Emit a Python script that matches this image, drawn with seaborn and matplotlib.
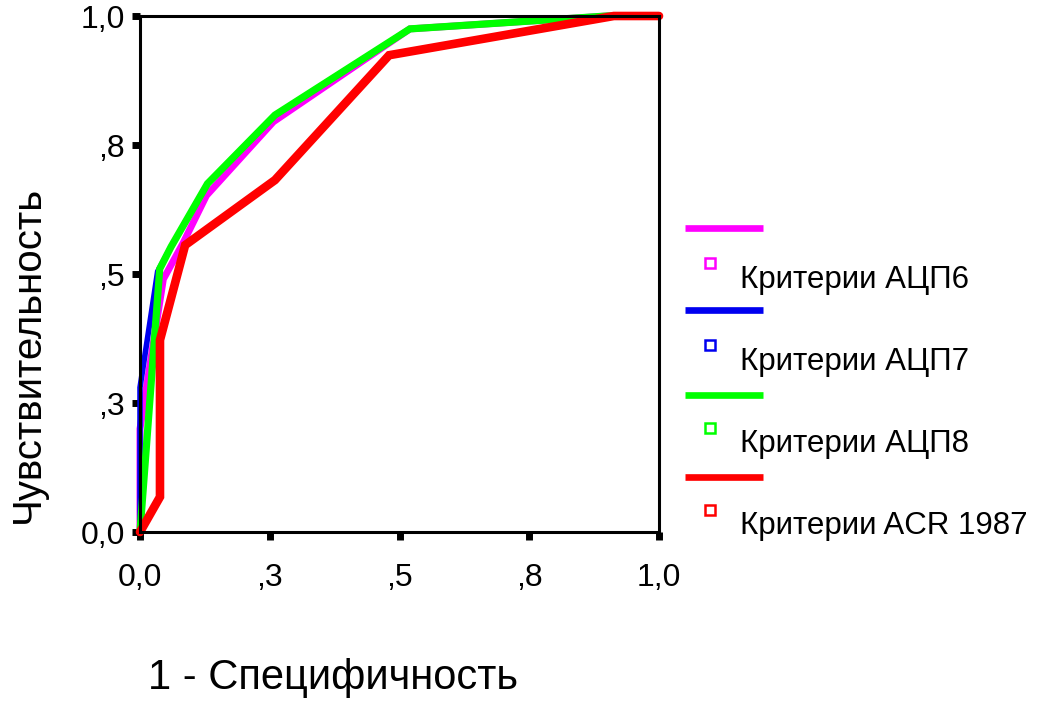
import matplotlib
matplotlib.use("Agg")
import matplotlib.pyplot as plt
from matplotlib.lines import Line2D
import seaborn as sns
import pandas as pd

# ROC curves: 1 - specificity (x) vs sensitivity (y)
labels = ["Критерии АЦП6", "Критерии АЦП7", "Критерии АЦП8", "Критерии ACR 1987"]
colors = ["#FF00FF", "#0000F0", "#00FF00", "#FF0000"]

fpr_acp6 = [0.0, 0.0, 0.045, 0.083, 0.128, 0.257, 0.52, 0.90, 1.0]
tpr_acp6 = [0.0, 0.20, 0.49, 0.56, 0.652, 0.795, 0.975, 1.0, 1.0]

fpr_acp7 = [0.0, 0.0, 0.034, 0.060, 0.130, 0.260, 0.52, 0.90, 1.0]
tpr_acp7 = [0.0, 0.28, 0.505, 0.553, 0.675, 0.808, 0.975, 1.0, 1.0]

fpr_acp8 = [0.0, 0.038, 0.060, 0.130, 0.260, 0.52, 0.90, 1.0]
tpr_acp8 = [0.0, 0.510, 0.553, 0.675, 0.808, 0.975, 1.0, 1.0]

fpr_acr = [0.0, 0.0385, 0.0385, 0.087, 0.26, 0.48, 0.913, 1.0]
tpr_acr = [0.0, 0.068, 0.372, 0.556, 0.682, 0.924, 1.0, 1.0]

tick_vals = [0.0, 0.25, 0.5, 0.75, 1.0]
tick_text = ["0,0", ",3", ",5", ",8", "1,0"]

series = [(fpr_acp6, tpr_acp6), (fpr_acp7, tpr_acp7), (fpr_acp8, tpr_acp8), (fpr_acr, tpr_acr)]
widths = [5.0, 4.0, 5.2, 6.2]

sns.set_theme(style="white")
plt.rcParams["font.family"] = ["Liberation Sans", "DejaVu Sans"]

W, H = 1049, 704
fig = plt.figure(figsize=(W / 100, H / 100), dpi=100)
ax = fig.add_axes([140 / W, 1 - 532 / H, 519 / W, 516 / H])

for (fx, ty), lab, col, lw in zip(series, labels, colors, widths):
    df = pd.DataFrame({"fpr": fx, "tpr": ty})
    sns.lineplot(data=df, x="fpr", y="tpr", sort=False, estimator=None,
                 color=col, linewidth=lw, ax=ax, clip_on=False,
                 solid_joinstyle="miter")

ax.set_xlim(0, 1)
ax.set_ylim(0, 1)
ax.set_xticks(tick_vals)
ax.set_xticklabels(tick_text)
ax.set_yticks(tick_vals)
ax.set_yticklabels(tick_text)
ax.set_xlabel("")
ax.set_ylabel("")
for sp in ax.spines.values():
    sp.set_visible(True)
    sp.set_color("black")
    sp.set_linewidth(2.2)
ax.tick_params(axis="both", which="both", direction="out", length=6,
               width=5, color="black", labelsize=23, labelcolor="black")
ax.tick_params(axis="x", pad=16)
ax.tick_params(axis="y", pad=5)
ax.tick_params(bottom=True, left=True, top=False, right=False)

# Axis titles
fig.text(333 / W, 1 - 678 / H, "1 - Специфичность", fontsize=30,
         ha="center", va="center", color="black")
fig.text(28 / W, 1 - 354 / H, "Чувствительность", fontsize=29,
         rotation=90, ha="center", va="center", color="black")

# Legend: line sample above a hollow square and the series name
line_y = [228, 310, 395, 477]
mark_y = [263, 345, 428, 510]
text_y = [280, 362, 444, 526]
for lab, col, ly, my, tyy in zip(labels, colors, line_y, mark_y, text_y):
    fig.add_artist(Line2D([685 / W, 763 / W], [1 - ly / H, 1 - ly / H],
                          transform=fig.transFigure, color=col, linewidth=4.8,
                          solid_capstyle="butt"))
    fig.add_artist(Line2D([710 / W], [1 - my / H], transform=fig.transFigure,
                          marker="s", markersize=6.5, markerfacecolor="white",
                          markeredgecolor=col, markeredgewidth=1.8, linestyle="none"))
    fig.text(740 / W, 1 - tyy / H, lab, fontsize=22.5, ha="left", va="center",
             color="black")

fig.savefig("out.png", dpi=100)
